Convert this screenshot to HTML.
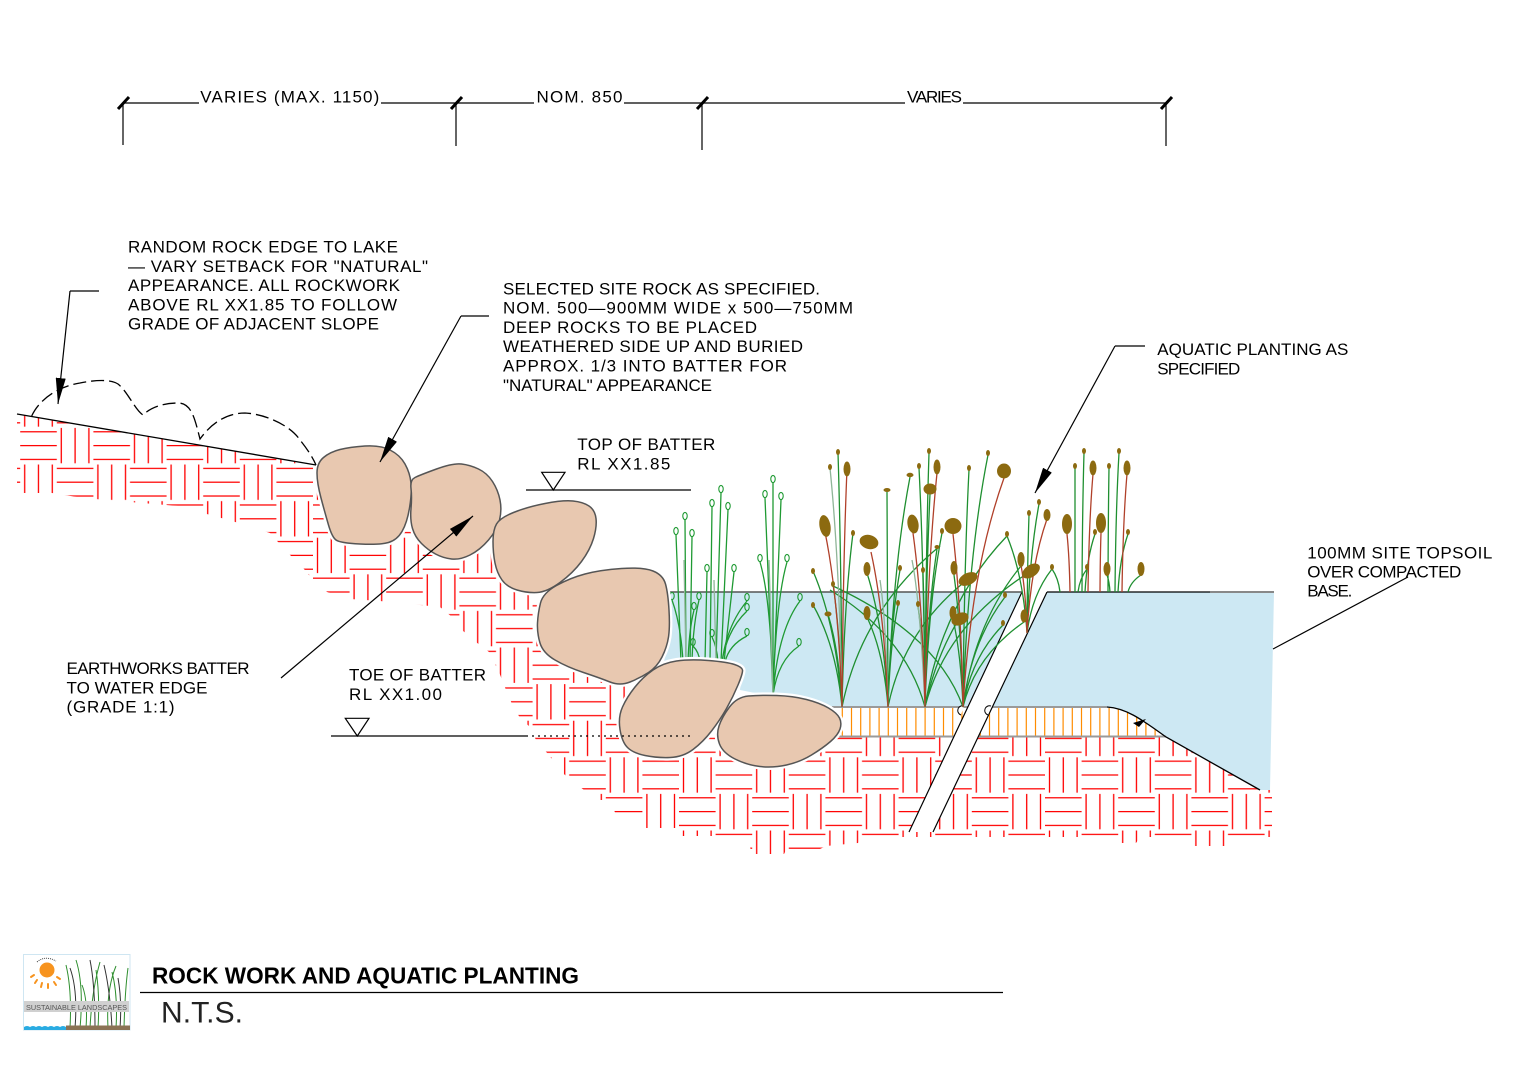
<!DOCTYPE html>
<html><head><meta charset="utf-8"><style>
html,body{margin:0;padding:0;background:#fff;}
svg{display:block;}
text{font-family:"Liberation Sans",Arial,sans-serif;}
</style></head><body>
<svg width="1517" height="1070" viewBox="0 0 1517 1070" xmlns="http://www.w3.org/2000/svg">
<defs>
<pattern id="hp" patternUnits="userSpaceOnUse" x="1045" y="756.7" width="73.2" height="73.2">
<g stroke="#ff0000" stroke-width="1.3" fill="none">
<path d="M4.5,0.6V36M18.3,0.6V36M32.1,0.6V36"/>
<path d="M36.6,4.5H73.2M36.6,18.3H73.2M36.6,32.1H73.2"/>
<path d="M0,41.1H36.6M0,54.9H36.6M0,68.7H36.6"/>
<path d="M41.1,37.2V72.6M54.9,37.2V72.6M68.7,37.2V72.6"/>
</g></pattern>
<clipPath id="hc"><polygon points="17,414 316,465 325,490 335,530 380,540 398,535 405,525 420,535 470,540 495,535 510,560 560,575 575,585 620,610 650,660 655,668 680,690 700,725 725,745 790,750 832,737 1166,737 1260,790 1272,790 1272,837 1230,837 1226,846 1194,846 1190,837 1140,837 1136,843 1120,843 1116,837 952,837 950,844 934,844 932,837 862,837 858,843 826,846 818,850 786,850 784,854 752,854 748,840 714,840 712,836 680,836 677,828 646,828 640,818 616,815 610,800 600,800 584,790 567,777 562,772 548,754 536,740 530,727 520,718 512,704 506,690 499,672 489,652 476,642 462,630 452,617 440,607 420,605 380,601 350,599 327,592 313,580 304,569 291,556 278,542 270,533 232,521 178,506 83,498 52,493 17,493"/></clipPath>
<clipPath id="tc"><path d="M832,707 L1107,707 C1125,708 1140,718 1166,737 L832,737 Z"/></clipPath>
<marker id="ar" markerUnits="userSpaceOnUse" markerWidth="27" markerHeight="10" refX="26" refY="5" orient="auto"><path d="M0,0 L26,5 L0,10 Z" fill="#000"/></marker>
<path id="r1" d="M317,473 Q317,463 323.5,457.5 Q330,452 340,449.5 Q350,447 365,446 Q380,445 390,450 Q400,455 405,464 Q410,473 411,483 Q412,493 409.5,508 Q407,523 402,531.5 Q397,540 388.5,542.5 Q380,545 360,544 Q340,543 336,540 Q332,537 328.5,525 Q325,513 321,498 Q317,483 317,473 Z"/>
<path id="r2" d="M411,488.5 Q410,480 415,477.5 Q420,475 436.5,469 Q453,463 461.5,464 Q470,465 478.5,469 Q487,473 492.5,481.5 Q498,490 500,500 Q502,510 499.5,520 Q497,530 488.5,540 Q480,550 470,555 Q460,560 451.5,559 Q443,558 435.5,554 Q428,550 421.5,543.5 Q415,537 412.5,528.5 Q410,520 411,508.5 Q412,497 411,488.5 Z"/>
<path id="r3" d="M493,541.5 Q493,530 496.5,524 Q500,518 513.5,512.5 Q527,507 545,503.5 Q563,500 573,501 Q583,502 589,506 Q595,510 596,518.5 Q597,527 593.5,538.5 Q590,550 581.5,561.5 Q573,573 560,582.5 Q547,592 537,592.5 Q527,593 517,590 Q507,587 502,580 Q497,573 495,563 Q493,553 493,541.5 Z"/>
<path id="r4" d="M540.5,603 Q543,593 556.5,585.5 Q570,578 585,574 Q600,570 621.5,568.5 Q643,567 653,571 Q663,575 665.5,584 Q668,593 669,610 Q670,627 668.5,637 Q667,647 662,657 Q657,667 648.5,672.5 Q640,678 630,682 Q620,686 610,682 Q600,678 583.5,672.5 Q567,667 555,660 Q543,653 540,643 Q537,633 537.5,623 Q538,613 540.5,603 Z"/>
<path id="r5" d="M653,670 Q663,663 676.5,661 Q690,659 708.5,660.5 Q727,662 734.5,664.5 Q742,667 742.5,670 Q743,673 738,685 Q733,697 726.5,708.5 Q720,720 711.5,731 Q703,742 693,749.5 Q683,757 670,757.5 Q657,758 645,755.5 Q633,753 627.5,747.5 Q622,742 620,729.5 Q618,717 622.5,707 Q627,697 635,687 Q643,677 653,670 Z"/>
<path id="r6" d="M729.5,707 Q737,697 748.5,696 Q760,695 776.5,695.5 Q793,696 806.5,699.5 Q820,703 828.5,708 Q837,713 839.5,718 Q842,723 840,729 Q838,735 830.5,741.5 Q823,748 811.5,755 Q800,762 786.5,765 Q773,768 760,766.5 Q747,765 735,759 Q723,753 719.5,744 Q716,735 719,726 Q722,717 729.5,707 Z"/>
</defs>

<!-- hatch -->
<rect x="0" y="400" width="1300" height="470" fill="url(#hp)" clip-path="url(#hc)"/>

<!-- water -->
<polygon points="668,592 1022,592 967,707 832,707 836,712 820,702 760,694 740,690 742,666 690,658 664,662 668,640" fill="#cde8f3"/>
<path d="M1047,592 L1274,592 L1270,790 L1260,790 L1166,737 C1140,718 1125,708 1107,707 L992,707 Z" fill="#cde8f3"/>

<!-- topsoil -->
<path d="M832,707 L1107,707 C1125,708 1140,718 1166,737 L832,737 Z" fill="#fff"/>
<g clip-path="url(#tc)" stroke="#ff8c00" stroke-width="1.2">
<path d="M833.1,708V736M842.3,708V736M851.5,708V736M860.7,708V736M869.9,708V736M879.1,708V736M888.3,708V736M897.5,708V736M906.7,708V736M915.9,708V736M925.1,708V736M934.3,708V736M943.5,708V736M952.7,708V736M961.9,708V736M971.1,708V736M980.3,708V736M989.5,708V736M998.7,708V736M1007.9,708V736M1017.1,708V736M1026.3,708V736M1035.5,708V736M1044.7,708V736M1053.9,708V736M1063.1,708V736M1072.3,708V736M1081.5,708V736M1090.7,708V736M1099.9,708V736M1109.1,708V736M1118.3,708V736M1127.5,708V736M1136.7,708V736M1145.9,708V736M1155.1,708V736"/>
</g>
<path d="M832,707H1107" stroke="#9a9a9a" stroke-width="2"/>
<path d="M832,736.5H1166" stroke="#9a9a9a" stroke-width="2"/>

<!-- diagonal band -->
<polygon points="1022,592 1047,592 933,832 909,832" fill="#fff"/>
<path d="M1022,592 L909,832 M1047,592 L933,832" stroke="#000" stroke-width="1.2" fill="none"/>
<path d="M964,706 a4,4 0 1 0 -3,9" stroke="#000" stroke-width="1" fill="#fff"/>
<path d="M991,706 a4,4 0 1 0 -3,9" stroke="#000" stroke-width="1" fill="#fff"/>

<!-- water lines -->
<path d="M668,592H1022" stroke="#555" stroke-width="1.5"/>
<path d="M1047,592H1210" stroke="#000" stroke-width="1.3"/>
<path d="M1210,592H1274" stroke="#888" stroke-width="2"/>
<path d="M1107,707 C1125,708 1140,718 1166,737 L1260,790" stroke="#000" stroke-width="1.3" fill="none"/>
<polygon points="1133,723 1146,719 1139,727" fill="#000"/>

<!-- plants: rushes -->
<g fill="none" stroke-width="1.3">
<g stroke="#1f9a33">
<path d="M681,662 L676,535M686,662 L685,520M690,662 L692,537M710,662 L712,507M716,662 L721,493M721,662 L728,510M705,662 L707,572M724,662 L734,572"/>
<path d="M683,662 Q681,625 672,600M692,662 Q693,625 699,600M688,662 Q689,630 694,610M700,662 Q699,652 693,646M718,662 Q717,647 712,637M722,662 Q727,625 747,601M722,662 Q727,630 747,611M725,662 Q729,645 747,636"/>
<path d="M773,695 L773,483M773,695 L765,498M773,695 L781,500M773,695 Q771,600 760,562M773,695 Q776,600 787,562M773,695 Q778,630 800,601M773,695 Q778,660 799,646"/>
</g>
<g stroke="#8fb598">
<path d="M686,662 L684,560M716,662 L714,580M773,695 L769,560"/>
</g>
<g stroke="#1f9a33" stroke-width="1.1">
<ellipse cx="676" cy="531" rx="2.2" ry="3.6"/><ellipse cx="685" cy="516" rx="2.2" ry="3.6"/><ellipse cx="692" cy="533" rx="2.2" ry="3.6"/><ellipse cx="712" cy="503" rx="2.2" ry="3.6"/><ellipse cx="721" cy="489" rx="2.2" ry="3.6"/><ellipse cx="728" cy="506" rx="2.2" ry="3.6"/><ellipse cx="707" cy="568" rx="2.2" ry="3.6"/><ellipse cx="734" cy="568" rx="2.2" ry="3.6"/><ellipse cx="672" cy="596" rx="2.2" ry="3.6"/><ellipse cx="699" cy="596" rx="2.2" ry="3.6"/><ellipse cx="694" cy="606" rx="2.2" ry="3.6"/><ellipse cx="693" cy="642" rx="2.2" ry="3.6"/><ellipse cx="712" cy="633" rx="2.2" ry="3.6"/><ellipse cx="747" cy="597" rx="2.2" ry="3.6"/><ellipse cx="747" cy="607" rx="2.2" ry="3.6"/><ellipse cx="747" cy="632" rx="2.2" ry="3.6"/>
<ellipse cx="773" cy="479" rx="2.2" ry="3.6"/><ellipse cx="765" cy="494" rx="2.2" ry="3.6"/><ellipse cx="781" cy="496" rx="2.2" ry="3.6"/><ellipse cx="760" cy="558" rx="2.2" ry="3.6"/><ellipse cx="787" cy="558" rx="2.2" ry="3.6"/><ellipse cx="800" cy="597" rx="2.2" ry="3.6"/><ellipse cx="799" cy="642" rx="2.2" ry="3.6"/>
</g>
</g>

<!-- plants: cattails -->
<g fill="none" stroke-width="1.3">
<g stroke="#1f8f30">
<path d="M842,707 Q841.2,554.6 838,453M842,707 Q844.2,602.6 853,533M842,707 Q840.2,633.2 833,584M842,707 Q836.2,625.4 813,571M842,707 Q836.2,645.8 813,605M842,707 Q839.2,651.2 828,614M842,707 Q861.6,610.4 940,546"/>
<path d="M888,707 Q887.8,578 887,492M888,707 Q883.8,626.6 867,573M888,707 Q883.8,653 867,617M888,707 Q892.4,569 910,477M888,707 Q890,645.8 898,605M888,707 Q890.4,624.8 900,570M888,707 Q902.8,633.2 962,584"/>
<path d="M925,707 Q923.8,563.6 919,468M925,707 Q925.8,554.6 929,453M925,707 Q926,579.2 930,494M925,707 Q928.4,602.6 942,533M925,707 Q927.4,612.2 937,549M925,707 Q924.6,626 923,572M925,707 Q923.6,646.4 918,606M925,707 Q941.4,604.4 1007,536M925,707 Q945,627.8 1025,575M925,707 Q906,636.8 830,590"/>
<path d="M963,707 Q961.2,627.8 954,575M963,707 Q961,654.2 953,619M963,707 Q964.2,564.8 969,470M963,707 Q968,555.8 988,455M963,707 Q974.6,622.4 1021,566M963,707 Q971.4,641 1005,597M963,707 Q971,657.8 1003,625M963,707 Q975.2,656 1024,622M963,707 Q937,634.4 833,586M925,707 Q935,660 956,624"/>
<path d="M1027,633 Q1029.4,555.6 1039,504M1027,633 Q1027.4,562.2 1029,515M1027,633 Q1032,594.6 1052,569M1027,633 Q1023,574.8 1007,536"/>
<path d="M1075,592 Q1075,517.6 1075,468M1082,592 Q1082.4,508.6 1084,453M1108,592 Q1108.2,517.6 1109,468M1115,592 Q1115.8,508.6 1119,453M1085,592 Q1087,557.2 1095,534M1118,592 Q1120,557.2 1128,534M1128,592 Q1130.6,581.8 1141,575M1110,592 Q1109.4,581.8 1107,575M1078,592 Q1079.8,578.2 1087,569M1060,592 Q1058.4,578.2 1052,569"/>
</g>
<g stroke="#8fb598">
<path d="M842,707 Q839.6,563.6 830,468M925,707 Q920,600 912,560M888,707 Q886,620 880,580"/>
</g>
<g stroke="#b0402a">
<path d="M842,707 Q843,564.2 847,469M842,707 Q838.6,598.4 825,532M888,707 Q884.6,614 871,552M925,707 Q927.4,566.6 937,473M925,707 Q922.6,602.6 913,533M963,707 Q961,603.2 953,534M963,707 Q971.2,569.6 1004,478M1027,633 Q1031,564.6 1047,519M1027,633 Q1025.8,592.2 1021,565M1088,592 Q1089,521.2 1093,474M1070,592 Q1069.4,557.2 1067,534M1100,592 Q1100.2,556.6 1101,533M1122,592 Q1123,521.2 1127,474"/>
</g>
</g>
<g fill="#8c6a10">
<ellipse cx="838" cy="452" rx="2" ry="3"/><ellipse cx="830" cy="467" rx="2" ry="3"/><ellipse cx="847" cy="469" rx="3.5" ry="7.5"/><ellipse cx="825" cy="526" rx="5.5" ry="11" transform="rotate(-10 825 526)"/><ellipse cx="853" cy="533" rx="2" ry="3"/><ellipse cx="833" cy="584" rx="2" ry="3"/><ellipse cx="813" cy="571" rx="2" ry="3"/><ellipse cx="813" cy="605" rx="2" ry="3"/><ellipse cx="828" cy="614" rx="3.5" ry="2.5"/>
<ellipse cx="869" cy="542" rx="9.5" ry="7" transform="rotate(15 869 542)"/><ellipse cx="887" cy="490" rx="3.5" ry="2"/><ellipse cx="867" cy="569" rx="3.5" ry="7"/><ellipse cx="867" cy="613" rx="3.5" ry="7"/><ellipse cx="910" cy="475" rx="3.5" ry="2.2"/><ellipse cx="898" cy="603" rx="2" ry="3"/><ellipse cx="900" cy="568" rx="2" ry="3"/><ellipse cx="968" cy="579" rx="10" ry="6" transform="rotate(-25 968 579)"/>
<ellipse cx="919" cy="466" rx="2" ry="3"/><ellipse cx="929" cy="451" rx="2" ry="3"/><ellipse cx="937" cy="467" rx="3.5" ry="7.5"/><ellipse cx="930" cy="489" rx="6.5" ry="5.5"/><ellipse cx="913" cy="524" rx="5.5" ry="9.5" transform="rotate(-10 913 524)"/><ellipse cx="942" cy="531" rx="2" ry="3"/><ellipse cx="937" cy="547" rx="2.5" ry="2"/><ellipse cx="923" cy="570" rx="2" ry="3"/><ellipse cx="918" cy="604" rx="2" ry="3"/><ellipse cx="1007" cy="534" rx="2" ry="3"/><ellipse cx="1031" cy="571" rx="10" ry="6" transform="rotate(-35 1031 571)"/>
<ellipse cx="953" cy="526" rx="8.5" ry="8"/><ellipse cx="954" cy="568" rx="3.5" ry="7"/><ellipse cx="953" cy="613" rx="3.5" ry="7"/><ellipse cx="969" cy="468" rx="2" ry="3"/><ellipse cx="988" cy="453" rx="2" ry="3"/><ellipse cx="1004" cy="471" rx="7" ry="7.5"/><ellipse cx="1021" cy="560" rx="3.5" ry="7"/><ellipse cx="1005" cy="595" rx="2" ry="3"/><ellipse cx="1003" cy="623" rx="2" ry="3"/><ellipse cx="1024" cy="616" rx="3.5" ry="6.5"/><ellipse cx="960" cy="619" rx="9" ry="6" transform="rotate(-25 960 619)"/>
<ellipse cx="1039" cy="502" rx="2" ry="3"/><ellipse cx="1029" cy="513" rx="2" ry="3"/><ellipse cx="1047" cy="515" rx="3.5" ry="6"/><ellipse cx="1021" cy="559" rx="3.5" ry="7"/><ellipse cx="1052" cy="567" rx="2" ry="3"/>
<ellipse cx="1075" cy="466" rx="2" ry="3"/><ellipse cx="1084" cy="451" rx="2" ry="3"/><ellipse cx="1093" cy="468" rx="3.5" ry="7.5"/><ellipse cx="1067" cy="524" rx="5" ry="10"/><ellipse cx="1101" cy="523" rx="5" ry="10"/><ellipse cx="1109" cy="466" rx="2" ry="3"/><ellipse cx="1119" cy="451" rx="2" ry="3"/><ellipse cx="1127" cy="468" rx="3.5" ry="7.5"/><ellipse cx="1095" cy="532" rx="2" ry="3"/><ellipse cx="1128" cy="532" rx="2" ry="3"/><ellipse cx="1141" cy="569" rx="3.5" ry="7"/><ellipse cx="1107" cy="569" rx="3.5" ry="7"/><ellipse cx="1087" cy="567" rx="2" ry="3"/>
</g>

<!-- rocks -->
<g stroke-linejoin="round">
<g fill="none" stroke="#fff" stroke-width="6">
<use href="#r1"/><use href="#r2"/><use href="#r3"/><use href="#r4"/><use href="#r5"/><use href="#r6"/>
</g>
<g fill="#e8c8b0" stroke="#555" stroke-width="1.5">
<use href="#r1"/><use href="#r2"/><use href="#r3"/><use href="#r4"/><use href="#r5"/><use href="#r6"/>
</g>
</g>

<!-- ground slope and dashed rock edge -->
<path d="M17,414 L316,465" stroke="#000" stroke-width="1.3"/>
<path d="M31.7,416 C40,398 60,386 80,383 C95,380 110,379 118,384 C128,392 135,410 143,415 C150,408 162,403 178,403 C192,403 195,420 200,439 C210,425 225,413 245,413 C265,414 290,425 300,440 C308,450 313,458 316,465" stroke="#000" stroke-width="1.3" fill="none" stroke-dasharray="13 5"/>

<!-- level markers -->
<path d="M526,490H691" stroke="#000" stroke-width="1.3"/>
<polygon points="541.7,472.3 565,472.3 553.3,490" fill="none" stroke="#000" stroke-width="1.2"/>
<path d="M331,736H526" stroke="#000" stroke-width="1.3"/>
<path d="M526,736H692" stroke="#000" stroke-width="1.3" stroke-dasharray="2 4"/>
<polygon points="345.3,718.3 369,718.3 357.3,736" fill="none" stroke="#000" stroke-width="1.2"/>

<!-- leaders -->
<g stroke="#000" stroke-width="1.2" fill="none">
<path d="M99,291H70"/>
<path d="M70,291 L58,404" marker-end="url(#ar)"/>
<path d="M489,316H461"/>
<path d="M461,316 L380,462" marker-end="url(#ar)"/>
<path d="M281,678 L473,516" marker-end="url(#ar)"/>
<path d="M1145,346H1115"/>
<path d="M1115,346 L1035,493" marker-end="url(#ar)"/>
<path d="M1408,577 L1273,649"/>
</g>

<!-- dimension line -->
<g stroke="#000" stroke-width="1.2">
<path d="M123,103H199M381,103H534M624,103H905M963,103H1166"/>
<path d="M123,103V145M456,103V146M702,103V150M1166,103V146"/>
</g>
<g stroke="#000" stroke-width="3">
<path d="M118,109 L129,97M451,109 L462,97M697,109 L708,97M1161,109 L1172,97"/>
</g>

<!-- text -->
<g font-size="17" fill="#000">
<text x="200.3" y="102.7" textLength="179" lengthAdjust="spacing">VARIES (MAX. 1150)</text>
<text x="536.5" y="102.7" textLength="86" lengthAdjust="spacing">NOM. 850</text>
<text x="907" y="102.7" textLength="55" lengthAdjust="spacing">VARIES</text>

<text x="128" y="252.7" textLength="270" lengthAdjust="spacing">RANDOM  ROCK  EDGE  TO  LAKE</text>
<text x="128" y="271.9" textLength="300" lengthAdjust="spacing">—  VARY  SETBACK  FOR  "NATURAL"</text>
<text x="128" y="291.1" textLength="272" lengthAdjust="spacing">APPEARANCE.   ALL  ROCKWORK</text>
<text x="128" y="310.3" textLength="269" lengthAdjust="spacing">ABOVE  RL  XX1.85  TO  FOLLOW</text>
<text x="128" y="329.5" textLength="251" lengthAdjust="spacing">GRADE  OF  ADJACENT  SLOPE</text>

<text x="503" y="294.3" textLength="317" lengthAdjust="spacing">SELECTED  SITE  ROCK  AS  SPECIFIED.</text>
<text x="503" y="313.6" textLength="350" lengthAdjust="spacing">NOM.  500—900MM  WIDE  x  500—750MM</text>
<text x="503" y="332.9" textLength="254" lengthAdjust="spacing">DEEP  ROCKS  TO  BE  PLACED</text>
<text x="503" y="352.2" textLength="300" lengthAdjust="spacing">WEATHERED  SIDE  UP  AND  BURIED</text>
<text x="503" y="371.5" textLength="284" lengthAdjust="spacing">APPROX.  1/3  INTO  BATTER  FOR</text>
<text x="503" y="390.8" textLength="209" lengthAdjust="spacing">"NATURAL"  APPEARANCE</text>

<text x="577.3" y="450" textLength="138" lengthAdjust="spacing">TOP  OF  BATTER</text>
<text x="577.3" y="469.5" textLength="93" lengthAdjust="spacing">RL  XX1.85</text>

<text x="349" y="680.7" textLength="137" lengthAdjust="spacing">TOE  OF  BATTER</text>
<text x="349" y="700" textLength="93" lengthAdjust="spacing">RL  XX1.00</text>

<text x="66.5" y="674" textLength="183" lengthAdjust="spacing">EARTHWORKS  BATTER</text>
<text x="66.5" y="693.3" textLength="141" lengthAdjust="spacing">TO  WATER  EDGE</text>
<text x="66.5" y="712.6" textLength="108" lengthAdjust="spacing">(GRADE  1:1)</text>

<text x="1157.3" y="355" textLength="191" lengthAdjust="spacing">AQUATIC  PLANTING  AS</text>
<text x="1157.3" y="374.3" textLength="83" lengthAdjust="spacing">SPECIFIED</text>

<text x="1307.3" y="558.3" textLength="185" lengthAdjust="spacing">100MM  SITE  TOPSOIL</text>
<text x="1307.3" y="577.4" textLength="154" lengthAdjust="spacing">OVER  COMPACTED</text>
<text x="1307.3" y="596.5" textLength="45" lengthAdjust="spacing">BASE.</text>
</g>

<!-- title block -->
<text x="152" y="983.3" font-size="23.5" font-weight="bold" textLength="427" lengthAdjust="spacingAndGlyphs">ROCK WORK AND AQUATIC PLANTING</text>
<path d="M140,992.5H1003" stroke="#000" stroke-width="1.3"/>
<text x="161" y="1022.7" font-size="30" fill="#222" textLength="82" lengthAdjust="spacing">N.T.S.</text>

<!-- logo -->
<g>
<rect x="23.5" y="954.5" width="106.5" height="75.5" fill="#fff" stroke="#cfe6f2" stroke-width="1"/>
<circle cx="47" cy="970" r="7.5" fill="#f7931e"/>
<g stroke="#f7931e" stroke-width="2" stroke-linecap="round">
<path d="M34,975 L31,977M37,980 L35,983M42,983 L41,987M48,984 L48,988M54,982 L56,985M57,977 L60,979"/>
</g>
<path d="M37,962 Q45,955 56,961" stroke="#444" stroke-width="1" fill="none" stroke-dasharray="1 1"/>
<g fill="none" stroke-width="1">
<path d="M70,1028 Q72,990 66,965M80,1028 Q84,985 76,960M90,1028 Q92,990 100,962M98,1028 Q100,995 96,970M108,1028 Q106,990 116,966M116,1028 Q118,995 112,972M124,1028 Q125,990 128,968M86,1028 Q88,1000 82,985" stroke="#2f8f2f"/>
<path d="M75,1028 Q78,990 70,968M95,1028 Q95,985 90,960M112,1028 Q110,990 104,965M120,1028 Q122,1000 118,978" stroke="#333"/>
</g>
<rect x="24" y="1001" width="105" height="11" fill="#d0d0d0"/>
<text x="26" y="1010" font-size="7.5" fill="#555" textLength="101" lengthAdjust="spacingAndGlyphs">SUSTAINABLE LANDSCAPES</text>
<path d="M24,1027 q3,-2 6,0 q3,-2 6,0 q3,-2 6,0 q3,-2 6,0 q3,-2 6,0 q3,-2 6,0 q3,-2 6,0 V1030 H24 Z" fill="#29abe2"/>
<rect x="66" y="1025.5" width="64" height="4.5" fill="#8b7355"/>
</g>
</svg>
</body></html>
